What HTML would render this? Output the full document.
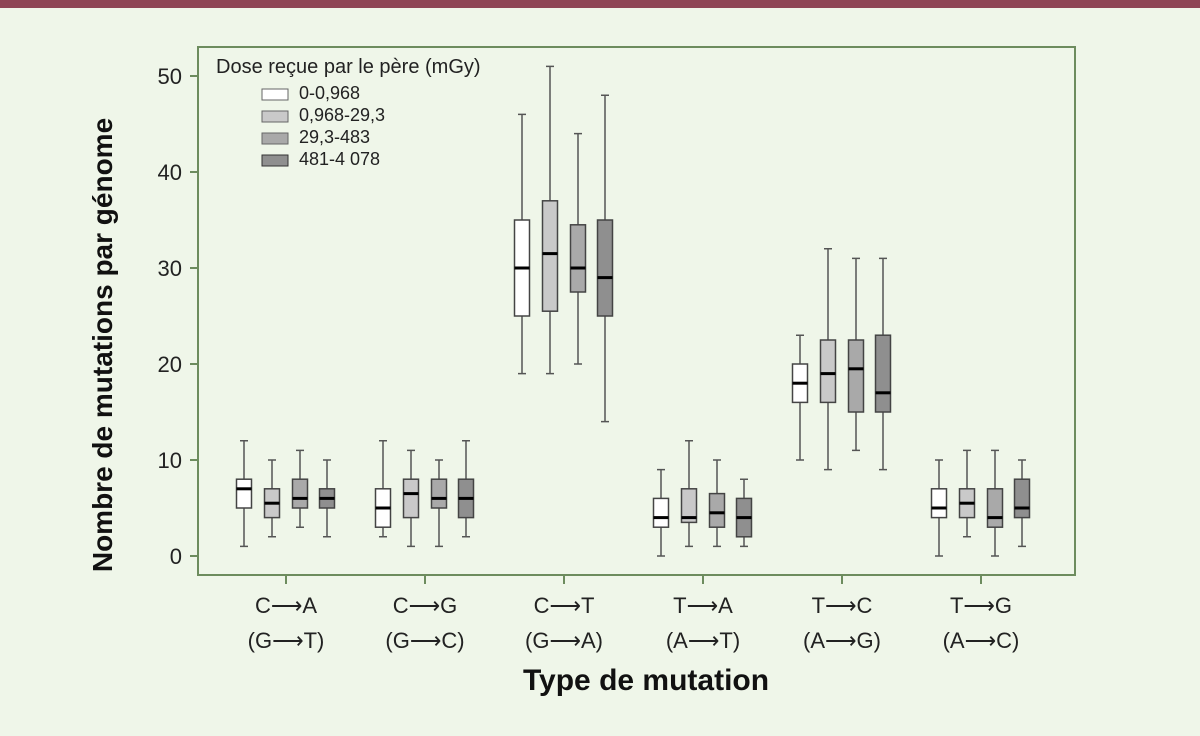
<!DOCTYPE html>
<html><head><meta charset="utf-8"><style>
body{margin:0;background:#eff6e9;}
svg{display:block}
text{font-family:"Liberation Sans",sans-serif;}
.w{stroke:#555;stroke-width:1.5;fill:none}
.b{stroke:#444;stroke-width:1.5}
.m{stroke:#000;stroke-width:3}
.c0{fill:#fff}.c1{fill:#c9c9c9}.c2{fill:#a9a9a9}.c3{fill:#8f8f8f}
</style></head><body>
<svg width="1200" height="736" xmlns="http://www.w3.org/2000/svg">
<rect width="1200" height="736" fill="#eff6e9"/>
<rect width="1200" height="8" fill="#8e4555"/>
<g stroke="#6d8c5e" stroke-width="2" fill="none">
<rect x="198" y="47" width="877" height="528"/>
<line x1="190" y1="556" x2="198" y2="556"/><line x1="190" y1="460" x2="198" y2="460"/>
<line x1="190" y1="364" x2="198" y2="364"/><line x1="190" y1="268" x2="198" y2="268"/>
<line x1="190" y1="172" x2="198" y2="172"/><line x1="190" y1="76" x2="198" y2="76"/>
<line x1="286" y1="575" x2="286" y2="584"/><line x1="425" y1="575" x2="425" y2="584"/>
<line x1="564" y1="575" x2="564" y2="584"/><line x1="703" y1="575" x2="703" y2="584"/>
<line x1="842" y1="575" x2="842" y2="584"/><line x1="981" y1="575" x2="981" y2="584"/>
</g>
<g font-size="22" fill="#222" text-anchor="end" font-family="Liberation Mono">
<text x="182" y="564">0</text><text x="182" y="468">10</text><text x="182" y="372">20</text>
<text x="182" y="276">30</text><text x="182" y="180">40</text><text x="182" y="84">50</text>
</g>
<g font-size="22" fill="#222" text-anchor="middle">
<text x="286" y="613">C⟶A</text><text x="286" y="648">(G⟶T)</text>
<text x="425" y="613">C⟶G</text><text x="425" y="648">(G⟶C)</text>
<text x="564" y="613">C⟶T</text><text x="564" y="648">(G⟶A)</text>
<text x="703" y="613">T⟶A</text><text x="703" y="648">(A⟶T)</text>
<text x="842" y="613">T⟶C</text><text x="842" y="648">(A⟶G)</text>
<text x="981" y="613">T⟶G</text><text x="981" y="648">(A⟶C)</text>
</g>
<text x="646" y="690" font-size="30" font-weight="bold" text-anchor="middle" fill="#111">Type de mutation</text>
<text transform="translate(112,345) rotate(-90)" font-size="28" font-weight="bold" text-anchor="middle" fill="#111">Nombre de mutations par génome</text>
<text x="216" y="73" font-size="20" fill="#222">Dose reçue par le père (mGy)</text>
<g font-size="18" fill="#222" font-family="Liberation Mono">
<rect x="262" y="89" width="26" height="11" fill="#fff" stroke="#666"/><text x="299" y="99">0-0,968</text>
<rect x="262" y="111" width="26" height="11" fill="#c9c9c9" stroke="#666"/><text x="299" y="121">0,968-29,3</text>
<rect x="262" y="133" width="26" height="11" fill="#a9a9a9" stroke="#666"/><text x="299" y="143">29,3-483</text>
<rect x="262" y="155" width="26" height="11" fill="#8f8f8f" stroke="#333"/><text x="299" y="165">481-4 078</text>
</g>

<!-- G0 -->
<g transform="translate(244 0)"><path class="w" d="M0 546.4V440.8M-4 440.8H4M-4 546.4H4"/><rect class="b c0" x="-7.5" y="479.2" width="15" height="28.8"/><path class="m" d="M-7.5 488.8H7.5"/></g>
<g transform="translate(272 0)"><path class="w" d="M0 536.8V460M-4 460H4M-4 536.8H4"/><rect class="b c1" x="-7.5" y="488.8" width="15" height="28.8"/><path class="m" d="M-7.5 503.2H7.5"/></g>
<g transform="translate(300 0)"><path class="w" d="M0 527.2V450.4M-4 450.4H4M-4 527.2H4"/><rect class="b c2" x="-7.5" y="479.2" width="15" height="28.8"/><path class="m" d="M-7.5 498.4H7.5"/></g>
<g transform="translate(327 0)"><path class="w" d="M0 536.8V460M-4 460H4M-4 536.8H4"/><rect class="b c3" x="-7.5" y="488.8" width="15" height="19.2"/><path class="m" d="M-7.5 498.4H7.5"/></g>
<!-- G1 -->
<g transform="translate(383 0)"><path class="w" d="M0 536.8V440.8M-4 440.8H4M-4 536.8H4"/><rect class="b c0" x="-7.5" y="488.8" width="15" height="38.4"/><path class="m" d="M-7.5 508H7.5"/></g>
<g transform="translate(411 0)"><path class="w" d="M0 546.4V450.4M-4 450.4H4M-4 546.4H4"/><rect class="b c1" x="-7.5" y="479.2" width="15" height="38.4"/><path class="m" d="M-7.5 493.6H7.5"/></g>
<g transform="translate(439 0)"><path class="w" d="M0 546.4V460M-4 460H4M-4 546.4H4"/><rect class="b c2" x="-7.5" y="479.2" width="15" height="28.8"/><path class="m" d="M-7.5 498.4H7.5"/></g>
<g transform="translate(466 0)"><path class="w" d="M0 536.8V440.8M-4 440.8H4M-4 536.8H4"/><rect class="b c3" x="-7.5" y="479.2" width="15" height="38.4"/><path class="m" d="M-7.5 498.4H7.5"/></g>
<!-- G2 -->
<g transform="translate(522 0)"><path class="w" d="M0 373.6V114.4M-4 114.4H4M-4 373.6H4"/><rect class="b c0" x="-7.5" y="220" width="15" height="96"/><path class="m" d="M-7.5 268H7.5"/></g>
<g transform="translate(550 0)"><path class="w" d="M0 373.6V66.4M-4 66.4H4M-4 373.6H4"/><rect class="b c1" x="-7.5" y="200.8" width="15" height="110.4"/><path class="m" d="M-7.5 253.6H7.5"/></g>
<g transform="translate(578 0)"><path class="w" d="M0 364V133.6M-4 133.6H4M-4 364H4"/><rect class="b c2" x="-7.5" y="224.8" width="15" height="67.2"/><path class="m" d="M-7.5 268H7.5"/></g>
<g transform="translate(605 0)"><path class="w" d="M0 421.6V95.2M-4 95.2H4M-4 421.6H4"/><rect class="b c3" x="-7.5" y="220" width="15" height="96"/><path class="m" d="M-7.5 277.6H7.5"/></g>
<!-- G3 -->
<g transform="translate(661 0)"><path class="w" d="M0 556V469.6M-4 469.6H4M-4 556H4"/><rect class="b c0" x="-7.5" y="498.4" width="15" height="28.8"/><path class="m" d="M-7.5 517.6H7.5"/></g>
<g transform="translate(689 0)"><path class="w" d="M0 546.4V440.8M-4 440.8H4M-4 546.4H4"/><rect class="b c1" x="-7.5" y="488.8" width="15" height="33.6"/><path class="m" d="M-7.5 517.6H7.5"/></g>
<g transform="translate(717 0)"><path class="w" d="M0 546.4V460M-4 460H4M-4 546.4H4"/><rect class="b c2" x="-7.5" y="493.6" width="15" height="33.6"/><path class="m" d="M-7.5 512.8H7.5"/></g>
<g transform="translate(744 0)"><path class="w" d="M0 546.4V479.2M-4 479.2H4M-4 546.4H4"/><rect class="b c3" x="-7.5" y="498.4" width="15" height="38.4"/><path class="m" d="M-7.5 517.6H7.5"/></g>
<!-- G4 -->
<g transform="translate(800 0)"><path class="w" d="M0 460V335.2M-4 335.2H4M-4 460H4"/><rect class="b c0" x="-7.5" y="364" width="15" height="38.4"/><path class="m" d="M-7.5 383.2H7.5"/></g>
<g transform="translate(828 0)"><path class="w" d="M0 469.6V248.8M-4 248.8H4M-4 469.6H4"/><rect class="b c1" x="-7.5" y="340" width="15" height="62.4"/><path class="m" d="M-7.5 373.6H7.5"/></g>
<g transform="translate(856 0)"><path class="w" d="M0 450.4V258.4M-4 258.4H4M-4 450.4H4"/><rect class="b c2" x="-7.5" y="340" width="15" height="72"/><path class="m" d="M-7.5 368.8H7.5"/></g>
<g transform="translate(883 0)"><path class="w" d="M0 469.6V258.4M-4 258.4H4M-4 469.6H4"/><rect class="b c3" x="-7.5" y="335.2" width="15" height="76.8"/><path class="m" d="M-7.5 392.8H7.5"/></g>
<!-- G5 -->
<g transform="translate(939 0)"><path class="w" d="M0 556V460M-4 460H4M-4 556H4"/><rect class="b c0" x="-7.5" y="488.8" width="15" height="28.8"/><path class="m" d="M-7.5 508H7.5"/></g>
<g transform="translate(967 0)"><path class="w" d="M0 536.8V450.4M-4 450.4H4M-4 536.8H4"/><rect class="b c1" x="-7.5" y="488.8" width="15" height="28.8"/><path class="m" d="M-7.5 503.2H7.5"/></g>
<g transform="translate(995 0)"><path class="w" d="M0 556V450.4M-4 450.4H4M-4 556H4"/><rect class="b c2" x="-7.5" y="488.8" width="15" height="38.4"/><path class="m" d="M-7.5 517.6H7.5"/></g>
<g transform="translate(1022 0)"><path class="w" d="M0 546.4V460M-4 460H4M-4 546.4H4"/><rect class="b c3" x="-7.5" y="479.2" width="15" height="38.4"/><path class="m" d="M-7.5 508H7.5"/></g>
</svg>
</body></html>
